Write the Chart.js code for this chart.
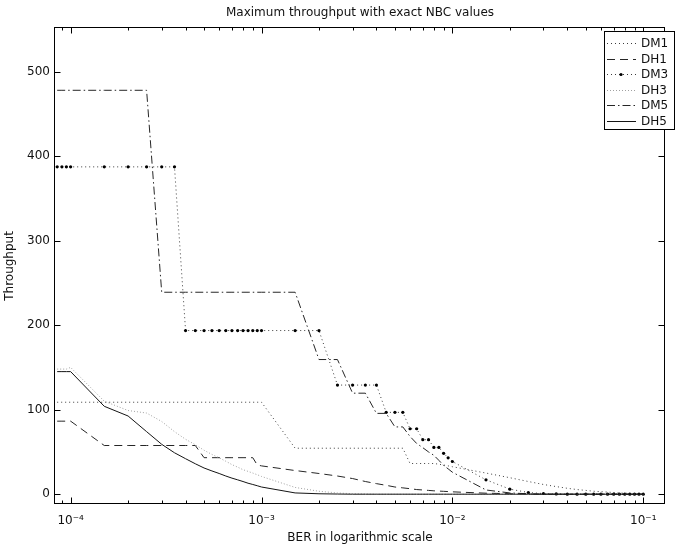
<!DOCTYPE html>
<html>
<head>
<meta charset="utf-8">
<title>Maximum throughput with exact NBC values</title>
<script src="https://cdn.jsdelivr.net/npm/chart.js@4.4.1/dist/chart.umd.min.js"></script>
<style>
    html, body { margin: 0; padding: 0; background: #fff; }
    #wrap { width: 675px; height: 550px; }
</style>
</head>
<body>
<div id="wrap"><canvas id="throughputChart" width="675" height="550"></canvas></div>
<script>
// Eje X: valores de BER muestreados
const ber = [
    8.5e-5, 9e-5, 9.5e-5,
    1e-4, 1.5e-4, 2e-4, 2.5e-4, 3e-4, 3.5e-4, 4e-4, 4.5e-4, 5e-4, 5.5e-4, 6e-4, 6.5e-4, 7e-4, 7.5e-4, 8e-4, 8.5e-4, 9e-4, 9.5e-4,
    1e-3, 1.5e-3, 2e-3, 2.5e-3, 3e-3, 3.5e-3, 4e-3, 4.5e-3, 5e-3, 5.5e-3, 6e-3, 6.5e-3, 7e-3, 7.5e-3, 8e-3, 8.5e-3, 9e-3, 9.5e-3,
    1e-2, 1.5e-2, 2e-2, 2.5e-2, 3e-2, 3.5e-2, 4e-2, 4.5e-2, 5e-2, 5.5e-2, 6e-2, 6.5e-2, 7e-2, 7.5e-2, 8e-2, 8.5e-2, 9e-2, 9.5e-2, 1e-1
];

// Throughput por tipo de paquete
const dm1 = [
    108.8, 108.8, 108.8,
    108.8, 108.8, 108.8, 108.8, 108.8, 108.8, 108.8, 108.8, 108.8, 108.8, 108.8, 108.8, 108.8, 108.8, 108.8, 108.8, 108.8, 108.8,
    108.8, 54.4, 54.4, 54.4, 54.4, 54.4, 54.4, 54.4, 54.4, 54.4, 36.3, 36.3, 36.3, 36.3, 36.3, 35.5, 34.5, 33.5,
    32.5, 25, 19.5, 15, 11.5, 9, 7, 5.5, 4.5, 3.5, 3, 2.5, 2, 1.5, 1.2, 1, 0.8, 0.6, 0.5
];
const dh1 = [
    86.4, 86.4, 86.4,
    86.4, 57.6, 57.6, 57.6, 57.6, 57.6, 57.6, 57.6, 43.2, 43.2, 43.2, 43.2, 43.2, 43.2, 43.2, 43.2, 43.2, 34.6,
    33.5, 28, 24.5, 21.5, 18.5, 15, 12.5, 10.5, 8.5, 7.5, 6.5, 5.5, 5, 4.5, 4, 3.7, 3.4, 3.1,
    2.8, 1.2, 0.6, 0.3, 0, 0, 0, 0, 0, 0, 0, 0, 0, 0, 0, 0, 0, 0, 0
];
const dm3 = [
    387.2, 387.2, 387.2,
    387.2, 387.2, 387.2, 387.2, 387.2, 387.2, 193.6, 193.6, 193.6, 193.6, 193.6, 193.6, 193.6, 193.6, 193.6, 193.6, 193.6, 193.6,
    193.6, 193.6, 193.6, 129.1, 129.1, 129.1, 129.1, 96.8, 96.8, 96.8, 77.4, 77.4, 64.5, 64.5, 55.3, 55.3, 48.4, 43.0,
    38.7, 17, 6, 2, 0.8, 0.3, 0, 0, 0, 0, 0, 0, 0, 0, 0, 0, 0, 0, 0
];
const dh3 = [
    148, 148, 148,
    150, 110, 99, 96, 86, 74, 65, 58.5, 52, 47, 43, 39, 35, 32, 29, 27, 25, 23,
    21, 8, 3.5, 1.5, 0.6, 0.3, 0, 0, 0, 0, 0, 0, 0, 0, 0, 0, 0, 0,
    0, 0, 0, 0, 0, 0, 0, 0, 0, 0, 0, 0, 0, 0, 0, 0, 0, 0, 0
];
const dm5 = [
    477.8, 477.8, 477.8,
    477.8, 477.8, 477.8, 477.8, 238.9, 238.9, 238.9, 238.9, 238.9, 238.9, 238.9, 238.9, 238.9, 238.9, 238.9, 238.9, 238.9, 238.9,
    238.9, 238.9, 159.3, 159.3, 119.5, 119.5, 95.6, 95.6, 79.6, 79.6, 68.3, 60, 55, 50, 46, 40, 34, 30,
    26, 5, 1.5, 0.5, 0, 0, 0, 0, 0, 0, 0, 0, 0, 0, 0, 0, 0, 0, 0
];
const dh5 = [
    145, 145, 145,
    145, 104, 92.5, 74, 59, 49, 42, 36, 31, 27.5, 24.5, 21.5, 19, 17, 15, 13, 11.5, 10,
    8.5, 1.5, 0.5, 0.2, 0, 0, 0, 0, 0, 0, 0, 0, 0, 0, 0, 0, 0, 0,
    0, 0, 0, 0, 0, 0, 0, 0, 0, 0, 0, 0, 0, 0, 0, 0, 0, 0, 0
];

const seriesLabels = ['DM1', 'DH1', 'DM3', 'DH3', 'DM5', 'DH5'];
const seriesValues = [dm1, dh1, dm3, dh3, dm5, dh5];

// Marcas de los ejes
const xMajorTicks = [1e-4, 1e-3, 1e-2, 1e-1];
const xTickLabels = ['10\u207B\u2074', '10\u207B\u00B3', '10\u207B\u00B2', '10\u207B\u00B9'];
const xMinorTicks = [
    9e-5,
    2e-4, 3e-4, 4e-4, 5e-4, 6e-4, 7e-4, 8e-4, 9e-4,
    2e-3, 3e-3, 4e-3, 5e-3, 6e-3, 7e-3, 8e-3, 9e-3,
    2e-2, 3e-2, 4e-2, 5e-2, 6e-2, 7e-2, 8e-2, 9e-2
];
const yTicks = [0, 100, 200, 300, 400, 500];

// Estilo de linea de cada serie (estilo MATLAB en escala de grises)
const estilos = [
    { borderColor: '#3c3c3c', borderDash: [1, 3] },              // DM1  :
    { borderColor: '#262626', borderDash: [8, 5] },              // DH1  --
    { borderColor: '#3c3c3c', borderDash: [1, 3], marker: true }, // DM3  :.
    { borderColor: '#a0a0a0', borderDash: [1, 2] },              // DH3  :
    { borderColor: '#262626', borderDash: [8, 3, 1.5, 3] },      // DM5  -.
    { borderColor: '#141414', borderDash: [] }                   // DH5  -
];

Chart.defaults.font.family = '"DejaVu Sans", sans-serif';
Chart.defaults.font.size = 12;
Chart.defaults.color = '#111';

// Caja de ejes con marcas hacia dentro
const marcoEjes = {
    id: 'marcoEjes',
    afterDatasetsDraw(chart) {
        const { ctx, chartArea: a, scales: { x, y } } = chart;
        const L = Math.round(a.left) - 0.5, R = Math.round(a.right) - 0.5;
        const T = Math.round(a.top) - 0.5, B = Math.round(a.bottom) - 0.5;
        ctx.save();
        ctx.strokeStyle = '#000';
        ctx.lineWidth = 1;
        ctx.setLineDash([]);
        ctx.strokeRect(L, T, R - L, B - T);
        ctx.beginPath();
        x.ticks.forEach(t => {
            const px = Math.round(x.getPixelForValue(t.value)) + 0.5;
            const len = xMajorTicks.includes(t.value) ? 6 : 3;
            ctx.moveTo(px, B); ctx.lineTo(px, B - len);
            ctx.moveTo(px, T); ctx.lineTo(px, T + len);
        });
        y.ticks.forEach(t => {
            const py = Math.round(y.getPixelForValue(t.value)) + 0.5;
            ctx.moveTo(L, py); ctx.lineTo(L + 6, py);
            ctx.moveTo(R, py); ctx.lineTo(R - 6, py);
        });
        ctx.stroke();
        ctx.restore();
    }
};

// Leyenda en recuadro arriba a la derecha
const leyendaCaja = {
    id: 'leyendaCaja',
    afterDraw(chart) {
        const { ctx } = chart;
        const x0 = 604.5, y0 = 31.5, w = 70, h = 98;
        ctx.save();
        ctx.fillStyle = '#fff';
        ctx.fillRect(x0, y0, w, h);
        ctx.strokeStyle = '#000';
        ctx.lineWidth = 1;
        ctx.strokeRect(x0, y0, w, h);
        chart.data.datasets.forEach((ds, i) => {
            const yy = Math.round(43 + i * 15.5) + 0.5;
            ctx.strokeStyle = ds.borderColor;
            ctx.setLineDash(ds.borderDash);
            ctx.beginPath();
            ctx.moveTo(607, yy);
            ctx.lineTo(636, yy);
            ctx.stroke();
            if (ds.pointRadius > 0) {
                ctx.setLineDash([]);
                ctx.fillStyle = ds.pointBackgroundColor;
                ctx.beginPath();
                ctx.arc(621, yy, ds.pointRadius, 0, Math.PI * 2);
                ctx.fill();
            }
            ctx.setLineDash([]);
            ctx.fillStyle = '#111';
            ctx.font = '12px "DejaVu Sans", sans-serif';
            ctx.textBaseline = 'middle';
            ctx.textAlign = 'left';
            ctx.fillText(ds.label, 641, yy);
        });
        ctx.restore();
    }
};

const datasets = seriesLabels.map((label, i) => ({
    label: label,
    data: ber.map((b, k) => ({ x: b, y: seriesValues[i][k] })),
    borderColor: estilos[i].borderColor,
    borderDash: estilos[i].borderDash,
    borderWidth: 1,
    tension: 0,
    fill: false,
    pointRadius: estilos[i].marker ? 1.6 : 0,
    pointBackgroundColor: '#000',
    pointBorderWidth: 0,
    order: 6 - i
}));

new Chart(document.getElementById('throughputChart'), {
    type: 'line',
    data: { datasets: datasets },
    options: {
        responsive: false,
        animation: false,
        events: [],
        layout: { padding: { left: 0, right: 10, top: 0, bottom: 0 } },
        plugins: {
            legend: { display: false },
            tooltip: { enabled: false },
            title: {
                display: true,
                fullSize: false,
                text: 'Maximum throughput with exact NBC values',
                color: '#111',
                font: { size: 12, weight: 'normal' },
                padding: { top: 6, bottom: 8 }
            }
        },
        scales: {
            x: {
                type: 'logarithmic',
                min: 8.28e-5,
                max: 0.13,
                afterBuildTicks: s => {
                    s.ticks = xMinorTicks.concat(xMajorTicks).sort((a, b) => a - b).map(v => ({ value: v }));
                },
                afterFit: s => { s.height = 46.5; },
                grid: { display: false, drawTicks: false },
                border: { display: false },
                ticks: {
                    autoSkip: false,
                    maxRotation: 0,
                    padding: 10,
                    color: '#111',
                    callback: v => {
                        const i = xMajorTicks.indexOf(v);
                        return i >= 0 ? xTickLabels[i] : '';
                    }
                },
                title: {
                    display: true,
                    text: 'BER in logarithmic scale',
                    color: '#111',
                    padding: { top: 0, bottom: 5 }
                }
            },
            y: {
                min: -11,
                max: 551,
                afterBuildTicks: s => { s.ticks = yTicks.map(v => ({ value: v })); },
                afterFit: s => { s.width = 55; },
                grid: { display: false, drawTicks: false },
                border: { display: false },
                ticks: { padding: 5, color: '#111' },
                title: {
                    display: true,
                    text: 'Throughput',
                    color: '#111',
                    padding: { top: 3, bottom: 0 }
                }
            }
        }
    },
    plugins: [marcoEjes, leyendaCaja]
});
</script>
</body>
</html>
